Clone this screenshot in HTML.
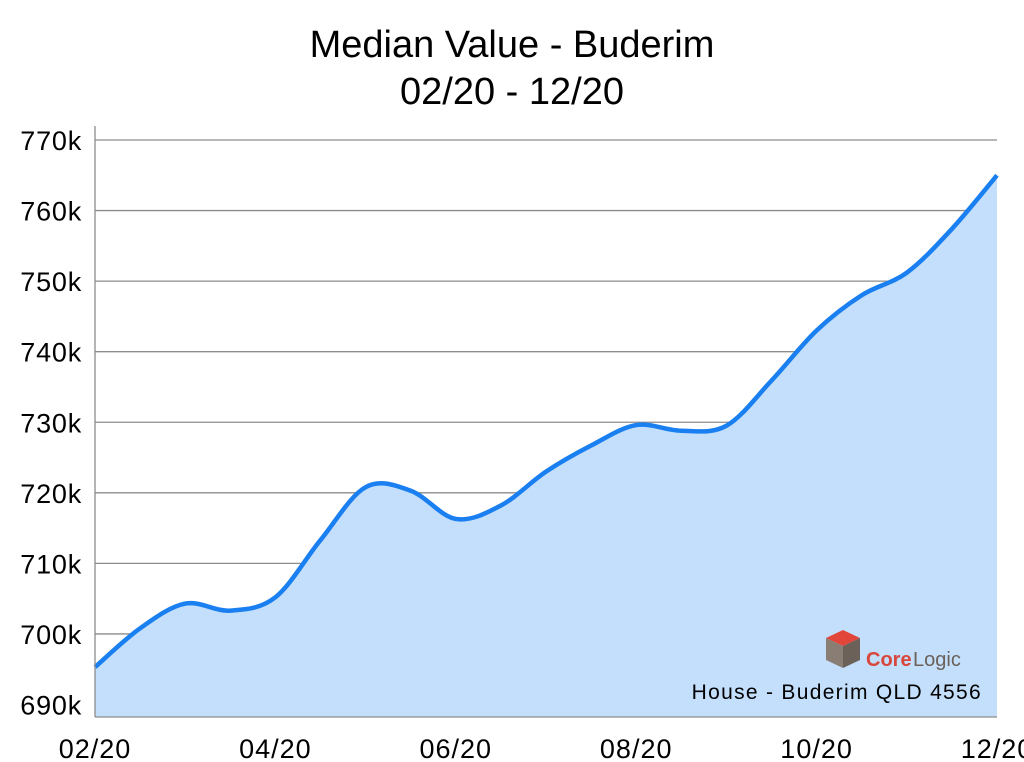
<!DOCTYPE html>
<html><head><meta charset="utf-8"><style>
body{margin:0;background:#fff;}
svg{display:block;font-family:"Liberation Sans",sans-serif;}
</style></head><body>
<svg id="chart" width="1024" height="762" viewBox="0 0 1024 762">
<text x="512" y="57" text-anchor="middle" font-size="38" fill="#000">Median Value - Buderim</text>
<text x="512" y="104" text-anchor="middle" font-size="38" fill="#000">02/20 - 12/20</text>
<g id="grid"></g>
<path id="area" fill="#c3dffb"></path>
<path id="line" fill="none" stroke="#1a7ff0" stroke-width="4.5" stroke-linejoin="round"></path>
<g id="axes"></g>
<g>
<polygon points="843,630 860,638 843,646 826,638" fill="#e2463a"/>
<polygon points="826,638 843,646 843,668 826,660" fill="#8a7e74"/>
<polygon points="843,646 860,638 860,660 843,668" fill="#6b6158"/>
<text x="866" y="666" font-size="20" fill="#d9463b" font-weight="bold">Core</text>
<text x="913" y="666" font-size="20" fill="#6b6158">Logic</text>
</g>
<text x="982" y="699" text-anchor="end" font-size="21" fill="#000" letter-spacing="1.3">House - Buderim QLD 4556</text>
</svg>
<script>
const values=[695.3,700.8,704.3,703.3,705.2,713.3,720.8,720.3,716.3,718.2,723,726.7,729.6,728.8,729.5,735.9,743,748,751.2,757.4,765];
const yTicks=[690,700,710,720,730,740,750,760,770];
const yTickLabels=["690k","700k","710k","720k","730k","740k","750k","760k","770k"];
const xTickLabels=["02/20","04/20","06/20","08/20","10/20","12/20"];
const X0=95,X1=997,YB=704.5,YT=140,AXB=717;
const ns="http://www.w3.org/2000/svg";
function xs(i){return X0+(X1-X0)*i/(values.length-1);}
function ys(v){return YB+(v-690)*(YT-YB)/80;}
const grid=document.getElementById('grid'),axes=document.getElementById('axes');
yTicks.forEach((t,k)=>{
 const l=document.createElementNS(ns,'line');
 
 
 l.setAttribute('x1',X0);l.setAttribute('x2',X1);l.setAttribute('y1',ys(t));l.setAttribute('y2',ys(t));
 l.setAttribute('stroke','#8c8c8c');l.setAttribute('stroke-width','1.3');grid.appendChild(l);
 const tx=document.createElementNS(ns,'text');
 
 
 tx.setAttribute('x',82);tx.setAttribute('y',ys(t)+10);tx.setAttribute('text-anchor','end');tx.setAttribute('font-size','27');tx.setAttribute('letter-spacing','0.8');
 tx.textContent=yTickLabels[k];axes.appendChild(tx);
});
xTickLabels.forEach((s,k)=>{
 const tx=document.createElementNS(ns,'text');
 
 
 tx.setAttribute('x',X0+(X1-X0)*k/(xTickLabels.length-1));tx.setAttribute('y',758);tx.setAttribute('text-anchor','middle');tx.setAttribute('font-size','27');tx.setAttribute('letter-spacing','1');
 tx.textContent=s;axes.appendChild(tx);
});
const ax=document.createElementNS(ns,'line');


ax.setAttribute('x1',X0);ax.setAttribute('x2',X0);ax.setAttribute('y1',126);ax.setAttribute('y2',AXB);ax.setAttribute('stroke','#8c8c8c');ax.setAttribute('stroke-width','1.3');axes.appendChild(ax);
const bx=document.createElementNS(ns,'line');


bx.setAttribute('x1',X0);bx.setAttribute('x2',X1);bx.setAttribute('y1',AXB);bx.setAttribute('y2',AXB);bx.setAttribute('stroke','#8c8c8c');bx.setAttribute('stroke-width','1.3');axes.appendChild(bx);
const P=values.map((v,i)=>[xs(i),ys(v)]);
let d='M'+P[0][0]+','+P[0][1];
for(let i=0;i<P.length-1;i++){
 const p0=P[Math.max(i-1,0)],p1=P[i],p2=P[i+1],p3=P[Math.min(i+2,P.length-1)];
 const c1=[p1[0]+(p2[0]-p0[0])/6,p1[1]+(p2[1]-p0[1])/6],c2=[p2[0]-(p3[0]-p1[0])/6,p2[1]-(p3[1]-p1[1])/6];
 d+=' C'+c1[0]+','+c1[1]+' '+c2[0]+','+c2[1]+' '+p2[0]+','+p2[1];
}
document.getElementById('line').setAttribute('d',d);
document.getElementById('area').setAttribute('d',d+' L'+X1+','+AXB+' L'+X0+','+AXB+' Z');
</script>
</body></html>
